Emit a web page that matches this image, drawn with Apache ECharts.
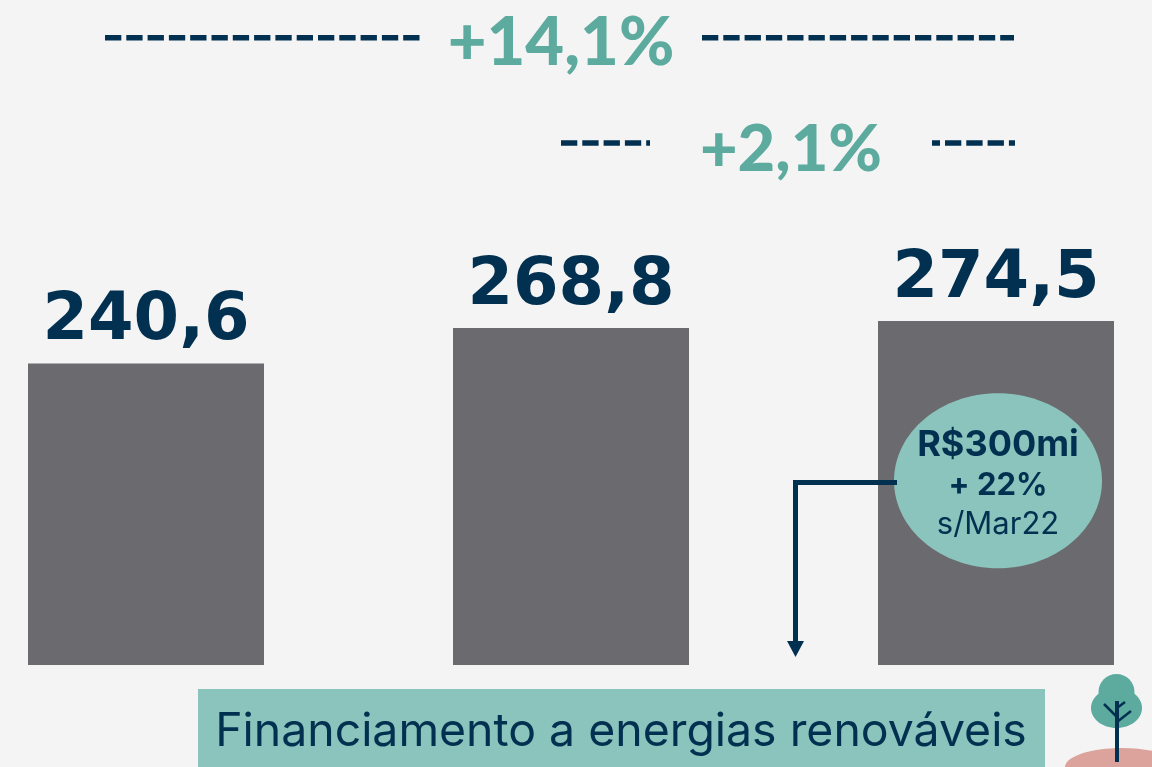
<!DOCTYPE html>
<html><head><meta charset="utf-8">
<style>html,body{margin:0;padding:0;background:#f4f4f4}#c{width:1152px;height:767px}</style>
<script src="https://cdn.jsdelivr.net/npm/echarts@6/dist/echarts.min.js"></script>
</head><body><div id="c"></div>
<script>
const categories = ['A', 'B', 'C'];
const values = [240.6, 268.8, 274.5];
const growthLabels = ['+14,1%', '+2,1%'];
const calloutLines = ['R$300mi', '+ 22%', 's/Mar22'];
const bannerText = 'Financiamento a energias renováveis';

const navy = '#023050', green = '#5dab9f', teal = '#8ac4bc', gray = '#6b6a6e';
const FONT = 'Inter', LATO = 'Lato', WIDE = '"DejaVu Sans"';
const dash = (x1, x2, y, off) => ({
  type: 'line', silent: true, z: 10,
  shape: { x1, y1: y, x2, y2: y },
  style: { stroke: navy, lineWidth: 5.5, lineDash: [16.3, 5], lineDashOffset: off || 0 }
});
const txt = (x, y, text, size, weight, fill, family) => ({
  type: 'text', silent: true, x, y, z: 20,
  style: { text, fontFamily: family || FONT, fontSize: size, fontWeight: weight, fill, align: 'center', verticalAlign: 'middle' }
});
const ell = (cx, cy, rx, ry, fill, z) => ({
  type: 'ellipse', silent: true, shape: { cx, cy, rx, ry }, style: { fill }, z: z || 10
});
const seg = (x1, y1, x2, y2, w) => ({
  type: 'line', silent: true, shape: { x1, y1, x2, y2 }, style: { stroke: navy, lineWidth: w }, z: 13
});

const chart = echarts.init(document.getElementById('c'));
chart.setOption({
  backgroundColor: '#f4f4f4',
  animation: false,
  grid: { left: -66.5, width: 1275, top: 289, height: 376, containLabel: false, outerBoundsMode: 'none' },
  xAxis: { type: 'category', data: categories, show: false },
  yAxis: { type: 'value', min: 0, max: 300, show: false },
  series: [{
    type: 'bar',
    data: values,
    barWidth: 236,
    itemStyle: { color: gray },
    label: {
      show: true, position: 'top', distance: 8,
      formatter: p => p.value.toFixed(1).replace('.', ','),
      fontFamily: WIDE, fontSize: 65.5, fontWeight: 700, color: navy
    }
  }],
  graphic: [
    dash(105, 420, 37.8),
    dash(702, 1014, 37.8),
    dash(561, 650, 143),
    dash(932, 1015, 143, 8.3),
    txt(561, 43, growthLabels[0], 67, 900, green, LATO),
    txt(791, 150, growthLabels[1], 65, 900, green, LATO),
    ell(998, 480.7, 104, 87.5, teal, 12),
    txt(998, 445, calloutLines[0], 36, 700, navy),
    txt(998, 486, calloutLines[1], 31, 700, navy),
    txt(998, 525, calloutLines[2], 31, 400, navy),
    { type: 'polyline', silent: true, z: 13,
      shape: { points: [[897, 482.5], [795.5, 482.5], [795.5, 645]] },
      style: { stroke: navy, lineWidth: 5, fill: 'none' } },
    { type: 'polygon', silent: true, z: 13,
      shape: { points: [[787, 641], [804, 641], [795.5, 657]] }, style: { fill: navy } },
    { type: 'rect', silent: true, shape: { x: 198, y: 689, width: 847, height: 78 }, style: { fill: teal }, z: 12 },
    txt(621, 732, bannerText, 46.4, 400, navy),
    ell(1116.5, 692, 18, 18, green, 12),
    ell(1116.5, 708, 25.5, 20, green, 12),
    ell(1122, 767, 57, 19, '#dba39c', 12),
    seg(1117, 701, 1117, 762, 4),
    seg(1104, 704, 1117, 717, 2.5),
    seg(1117, 708, 1125, 702, 2.5),
    seg(1117, 722, 1131, 711, 2.5)
  ]
});
</script></body></html>
